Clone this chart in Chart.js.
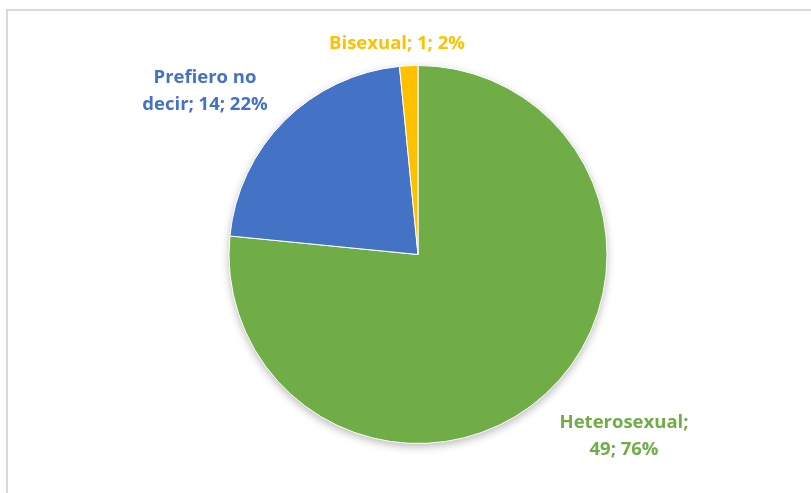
<!DOCTYPE html>
<html>
<head>
<meta charset="utf-8">
<script src="https://cdn.jsdelivr.net/npm/chart.js@4/dist/chart.umd.min.js"></script>
<style>
  html, body { margin: 0; padding: 0; background: #fff; overflow: hidden; }
  #frame { position: absolute; left: 6px; top: 9px; width: 900px; height: 600px; border: 2px solid #d9d9d9; }
  #chart { position: absolute; left: 0; top: 0; }
</style>
</head>
<body>
<div id="frame"></div>
<canvas id="chart" width="811" height="493"></canvas>
<script>
const categories = ['Heterosexual', 'Prefiero no decir', 'Bisexual'];
const counts = [49, 14, 1];
const percents = [76, 22, 2];
const sliceColors = ['#70ad47', '#4472c4', '#ffc000'];

// label placement relative to pie centre: dx, first baseline dy, wrap width
const labelLayout = [
    { dx: 206, dy: 173, wrap: 142 },
    { dx: -213, dy: -172, wrap: 142 },
    { dx: -21, dy: -206, wrap: 220 }
];

const pieShadow = {
    id: 'pieShadow',
    beforeDatasetsDraw(chart) {
        const arc = chart.getDatasetMeta(0).data[0];
        if (!arc) return;
        const ctx = chart.ctx;
        ctx.save();
        ctx.shadowColor = 'rgba(0,0,0,0.28)';
        ctx.shadowBlur = 9;
        ctx.shadowOffsetY = 3;
        ctx.fillStyle = '#ffffff';
        ctx.beginPath();
        ctx.arc(arc.x, arc.y, arc.outerRadius, 0, Math.PI * 2);
        ctx.fill();
        ctx.restore();
    }
};

function wrapText(ctx, text, maxWidth) {
    const words = text.split(' ');
    const lines = [];
    let line = '';
    words.forEach((w) => {
        const test = line ? line + ' ' + w : w;
        if (ctx.measureText(test).width > maxWidth && line) {
            lines.push(line);
            line = w;
        } else {
            line = test;
        }
    });
    if (line) lines.push(line);
    return lines;
}

const pieLabels = {
    id: 'pieLabels',
    afterDatasetsDraw(chart) {
        const arcs = chart.getDatasetMeta(0).data;
        const ctx = chart.ctx;
        ctx.save();
        ctx.font = 'bold 18.5px "Open Sans"';
        ctx.textAlign = 'center';
        ctx.textBaseline = 'alphabetic';
        arcs.forEach((arc, i) => {
            const lay = labelLayout[i];
            const text = `${categories[i]}; ${counts[i]}; ${percents[i]}%`;
            const lines = wrapText(ctx, text, lay.wrap);
            ctx.fillStyle = sliceColors[i];
            lines.forEach((l, j) => {
                ctx.fillText(l, arc.x + lay.dx, arc.y + lay.dy + j * 27);
            });
        });
        ctx.restore();
    }
};

new Chart(document.getElementById('chart'), {
    type: 'pie',
    data: {
        labels: categories,
        datasets: [{
            data: counts,
            backgroundColor: sliceColors,
            borderColor: '#ffffff',
            borderWidth: 1,
            hoverBorderWidth: 1,
            hoverOffset: 0,
            offset: 0
        }]
    },
    options: {
        responsive: false,
        animation: false,
        events: [],
        layout: { padding: { top: 65, bottom: 49, left: 25, right: 0 } },
        plugins: {
            legend: { display: false },
            tooltip: { enabled: false }
        }
    },
    plugins: [pieShadow, pieLabels]
});
</script>
</body>
</html>
